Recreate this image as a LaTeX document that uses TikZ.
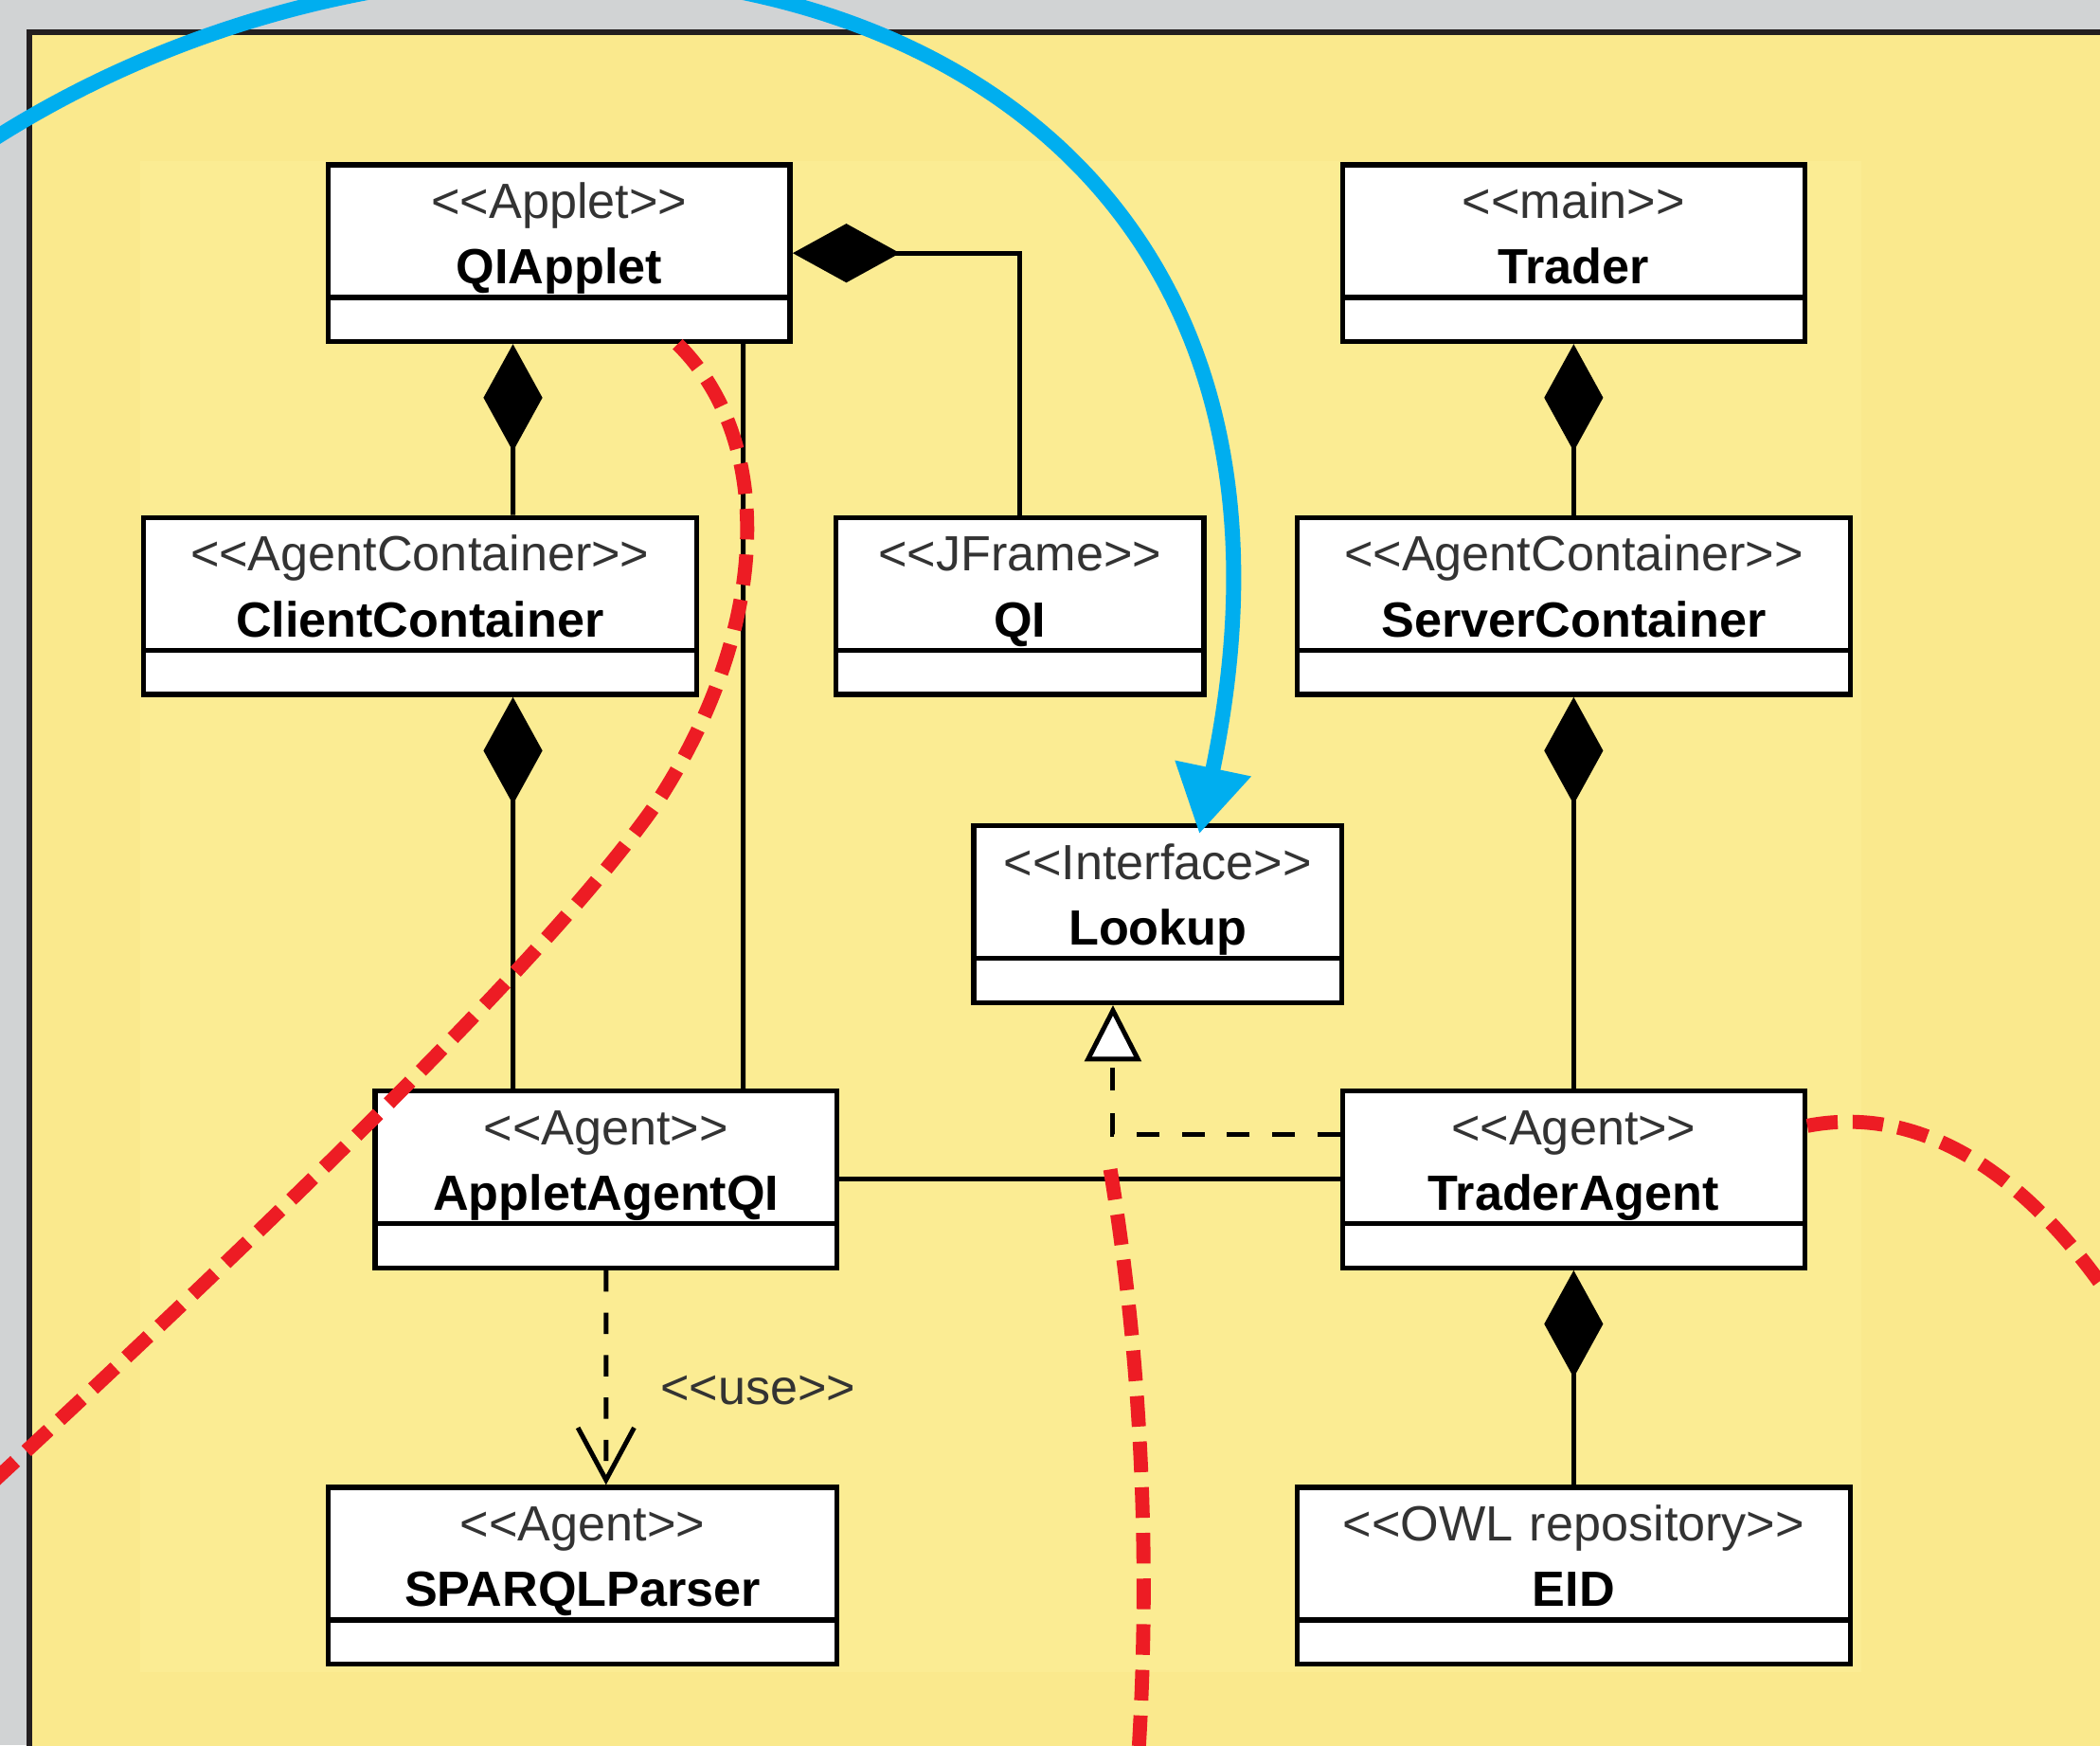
\documentclass[tikz,border=0pt]{standalone}
\usepackage{fontspec}
\setmainfont{Liberation Sans}
\usetikzlibrary{arrows.meta,positioning}
\definecolor{backgray}{HTML}{D1D3D4}
\definecolor{panelyellow}{HTML}{FAE98D}
\definecolor{sheetyellow}{HTML}{FBEC93}
\definecolor{frame}{HTML}{231F20}
\definecolor{cutred}{HTML}{ED1C24}
\definecolor{flowblue}{HTML}{00AEEF}
\newcommand{\stereo}[1]{{\color{black!80}<\kern0pt<#1>\kern0pt>}}
\begin{document}
\begin{tikzpicture}[
    classbox/.style={rectangle, draw=black, line width=1.1pt, fill=white, align=center, inner xsep=0pt, inner ysep=0pt, text height=0.40cm, text depth=0.92cm, font=\fontsize{10.5}{13.9}\selectfont, path picture={\draw[line width=1.1pt] ([yshift=3.3mm]path picture bounding box.south west) -- ([yshift=3.3mm]path picture bounding box.south east);}},
    stereolabel/.style={font=\fontsize{10.5}{13.9}\selectfont, inner sep=0pt},
    comp/.style={{Diamond[length=8mm,width=4.4mm]}-, line width=1pt},
    assoc/.style={line width=1pt},
    realiz/.style={-{Triangle[fill=white,length=4.2mm,width=4.2mm]}, line width=1pt, dash pattern=on 4.8pt off 4.8pt},
    dep/.style={-{Straight Barb[length=3.9mm,width=4.2mm]}, line width=1pt, dash pattern=on 4.5pt off 4.5pt},
    cutline/.style={line width=3pt, cutred, dash pattern=on 6.5pt off 3.2pt},
    flowarrow/.style={-{Triangle[length=5mm,width=5.5mm]}, line width=3.2pt, flowblue},
]

\clip (0,0) rectangle (15.68,13.03);
\fill [backgray] (0,0) rectangle (15.68,13.03);
\filldraw [fill=panelyellow, draw=frame, line width=1.2pt] (0.22,12.79) rectangle (16.2,-0.5);
\fill [sheetyellow] (1.05,11.83) rectangle (13.90,0.55);

\node (qiapplet) [classbox, text width=3.45cm] at (4.175,11.14) {\stereo{Applet}\\ \textbf{QIApplet}};

\node (trader) [classbox, text width=3.45cm] at (11.75,11.14) {\stereo{main}\\ \textbf{Trader}};

\node (clientcontainer) [classbox, text width=4.13cm] at (3.135,8.505) {\stereo{AgentContainer}\\ \textbf{ClientContainer}};

\node (qi) [classbox, text width=2.75cm] at (7.615,8.505) {\stereo{JFrame}\\ \textbf{QI}};

\node (servercontainer) [classbox, text width=4.13cm] at (11.75,8.505) {\stereo{AgentContainer}\\ \textbf{ServerContainer}};

\node (lookup) [classbox, text width=2.75cm] at (8.645,6.205) {\stereo{Interface}\\ \textbf{Lookup}};

\node (appletagentqi) [classbox, text width=3.45cm] at (4.525,4.225) {\stereo{Agent}\\ \textbf{AppletAgentQI}};

\node (traderagent) [classbox, text width=3.45cm] at (11.75,4.225) {\stereo{Agent}\\ \textbf{TraderAgent}};

\node (sparqlparser) [classbox, text width=3.80cm] at (4.35,1.265) {\stereo{Agent}\\ \textbf{SPARQLParser}};

\node (eid) [classbox, text width=4.13cm] at (11.75,1.265) {\stereo{OWL repository}\\ \textbf{EID}};

\coordinate (bluestart) at (-0.05,11.99);
\coordinate (cutwest) at (-0.20,1.83);
\coordinate (cuteast) at (15.80,3.28);
\coordinate (cutnorth) at (8.29,4.30);
\coordinate (cutsouth) at (8.50,-0.07);

\draw [comp] ([xshift=-3.45mm]qiapplet.south) -- ([xshift=6.95mm]clientcontainer.north);
\draw [comp] (qiapplet.east) -| (qi.north);
\draw [assoc] ([xshift=13.75mm]qiapplet.south) -- ([xshift=10.25mm]appletagentqi.north);
\draw [comp] ([xshift=6.95mm]clientcontainer.south) -- ([xshift=-6.95mm]appletagentqi.north);
\draw [comp] (trader.south) -- (servercontainer.north);
\draw [comp] (servercontainer.south) -- (traderagent.north);
\draw [comp] (traderagent.south) -- (eid.north);
\draw [assoc] (appletagentqi.east) -- (traderagent.west);
\draw [realiz] ([yshift=3.35mm]traderagent.west) -| ([xshift=-3.35mm]lookup.south);
\draw [dep] (appletagentqi.south) -- node[stereolabel, pos=0.56, right=3.9mm] (uselabel) {\stereo{use}} ([xshift=1.75mm]sparqlparser.north);

\draw [cutline] ([xshift=8.85mm]qiapplet.south) .. controls (5.80,9.73) and (5.75,8.33) .. (4.90,7.03) .. controls (4.20,6.03) and (2.50,4.33) .. (cutwest);
\draw [cutline] ([yshift=4mm]traderagent.east) .. controls (14.30,4.78) and (15.10,4.33) .. (cuteast);
\draw [cutline] (cutnorth) .. controls (8.50,3.03) and (8.60,1.53) .. (cutsouth);

\draw [flowarrow] (bluestart) .. controls (3.94,14.53) and (10.30,13.23) .. ([xshift=3.1mm,yshift=-0.8mm]lookup.north);

\end{tikzpicture}
\end{document}
